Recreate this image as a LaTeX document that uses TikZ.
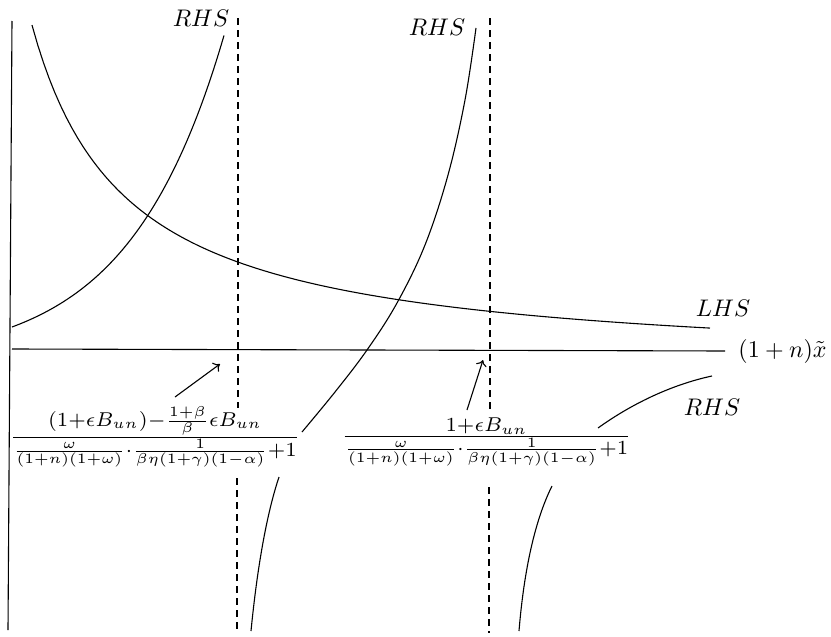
\documentclass[tikz,border=0pt]{standalone}
\usepackage{amsmath}
\usetikzlibrary{arrows.meta}
\tikzset{
  curve/.style={line width=1.1pt},
  axis/.style={line width=1.1pt},
  asym/.style={line width=1.1pt, dash pattern=on 7pt off 5pt},
  lbl/.style={inner sep=0pt, anchor=base},
  pointer/.style={line width=1.1pt, -{To[length=6pt,width=11pt]}},
}
\newcommand{\txtscale}[1]{\scalebox{2.4}{$#1$}}
\newcommand{\fracscale}[1]{\scalebox{2.86}{$#1$}}
\begin{document}
\begin{tikzpicture}[x=1pt,y=-1pt]
\useasboundingbox (0,0) rectangle (831,637);
% axes
\coordinate (ytop) at (12,21);
\coordinate (ybot) at (8,630);
\coordinate (xl) at (12,349);
\coordinate (xr) at (725,351);
\draw[axis] (ytop) -- (ybot);
\draw[axis] (xl) -- (xr);
\node[lbl] (xlab) at (782.5,357) {\txtscale{(1+n)\tilde{x}}};
% asymptotes
\coordinate (a1t) at (238,18);
\coordinate (a1m) at (238,408);
\coordinate (a1n) at (237,478);
\coordinate (a1b) at (237,632);
\coordinate (a2t) at (490,18);
\coordinate (a2m) at (490,411);
\coordinate (a2n) at (489,487);
\coordinate (a2b) at (489,633);
\draw[asym] (a1t) -- (a1m);
\draw[asym] (a1n) -- (a1b);
\draw[asym] (a2t) -- (a2m);
\draw[asym] (a2n) -- (a2b);
% LHS
\draw[curve] plot[domain=32:710, samples=120] ({\x},{370-323.53/((\x+61.8)/100)});
\node[lbl] (lhs) at (723,316) {\txtscale{LHS}};
% RHS left
\draw[curve] plot[domain=12:224, samples=80] ({\x},{362.3-35.3*exp(0.0105*(\x-12))});
\node[lbl] (rhs1) at (201,27) {\txtscale{RHS}};
% RHS middle
\draw[curve] plot[smooth, tension=0.6] coordinates {(302,432) (335,392) (367,350) (397,303) (425,245) (448,175) (465,100) (476,28)};
\node[lbl] (rhs2) at (437,35) {\txtscale{RHS}};
% lower branches
\draw[curve] (251,631) .. controls (258,560) and (268,510) .. (279,477);
\draw[curve] (519,631) .. controls (524,570) and (535,520) .. (552,486);
% right upper branch
\draw[curve] (598,428) .. controls (630,405) and (670,385) .. (712,376);
\node[lbl] (rhs3) at (712,415) {\txtscale{RHS}};
% labels
\node[lbl] (k1) at (155,444.6) {\fracscale{\frac{(1+\epsilon B_{un})-\frac{1+\beta}{\beta}\epsilon B_{un}}{\frac{\omega}{(1+n)(1+\omega)}\cdot\frac{1}{\beta\eta(1+\gamma)(1-\alpha)}+1}}};
\node[lbl] (k2) at (486.5,443.5) {\fracscale{\frac{1+\epsilon B_{un}}{\frac{\omega}{(1+n)(1+\omega)}\cdot\frac{1}{\beta\eta(1+\gamma)(1-\alpha)}+1}}};
% arrows
\coordinate (p1t) at (175,397);
\coordinate (p1h) at (220,364);
\coordinate (p2t) at (467,410);
\coordinate (p2h) at (483,360);
\draw[pointer] (p1t) -- (p1h);
\draw[pointer] (p2t) -- (p2h);
\end{tikzpicture}
\end{document}
